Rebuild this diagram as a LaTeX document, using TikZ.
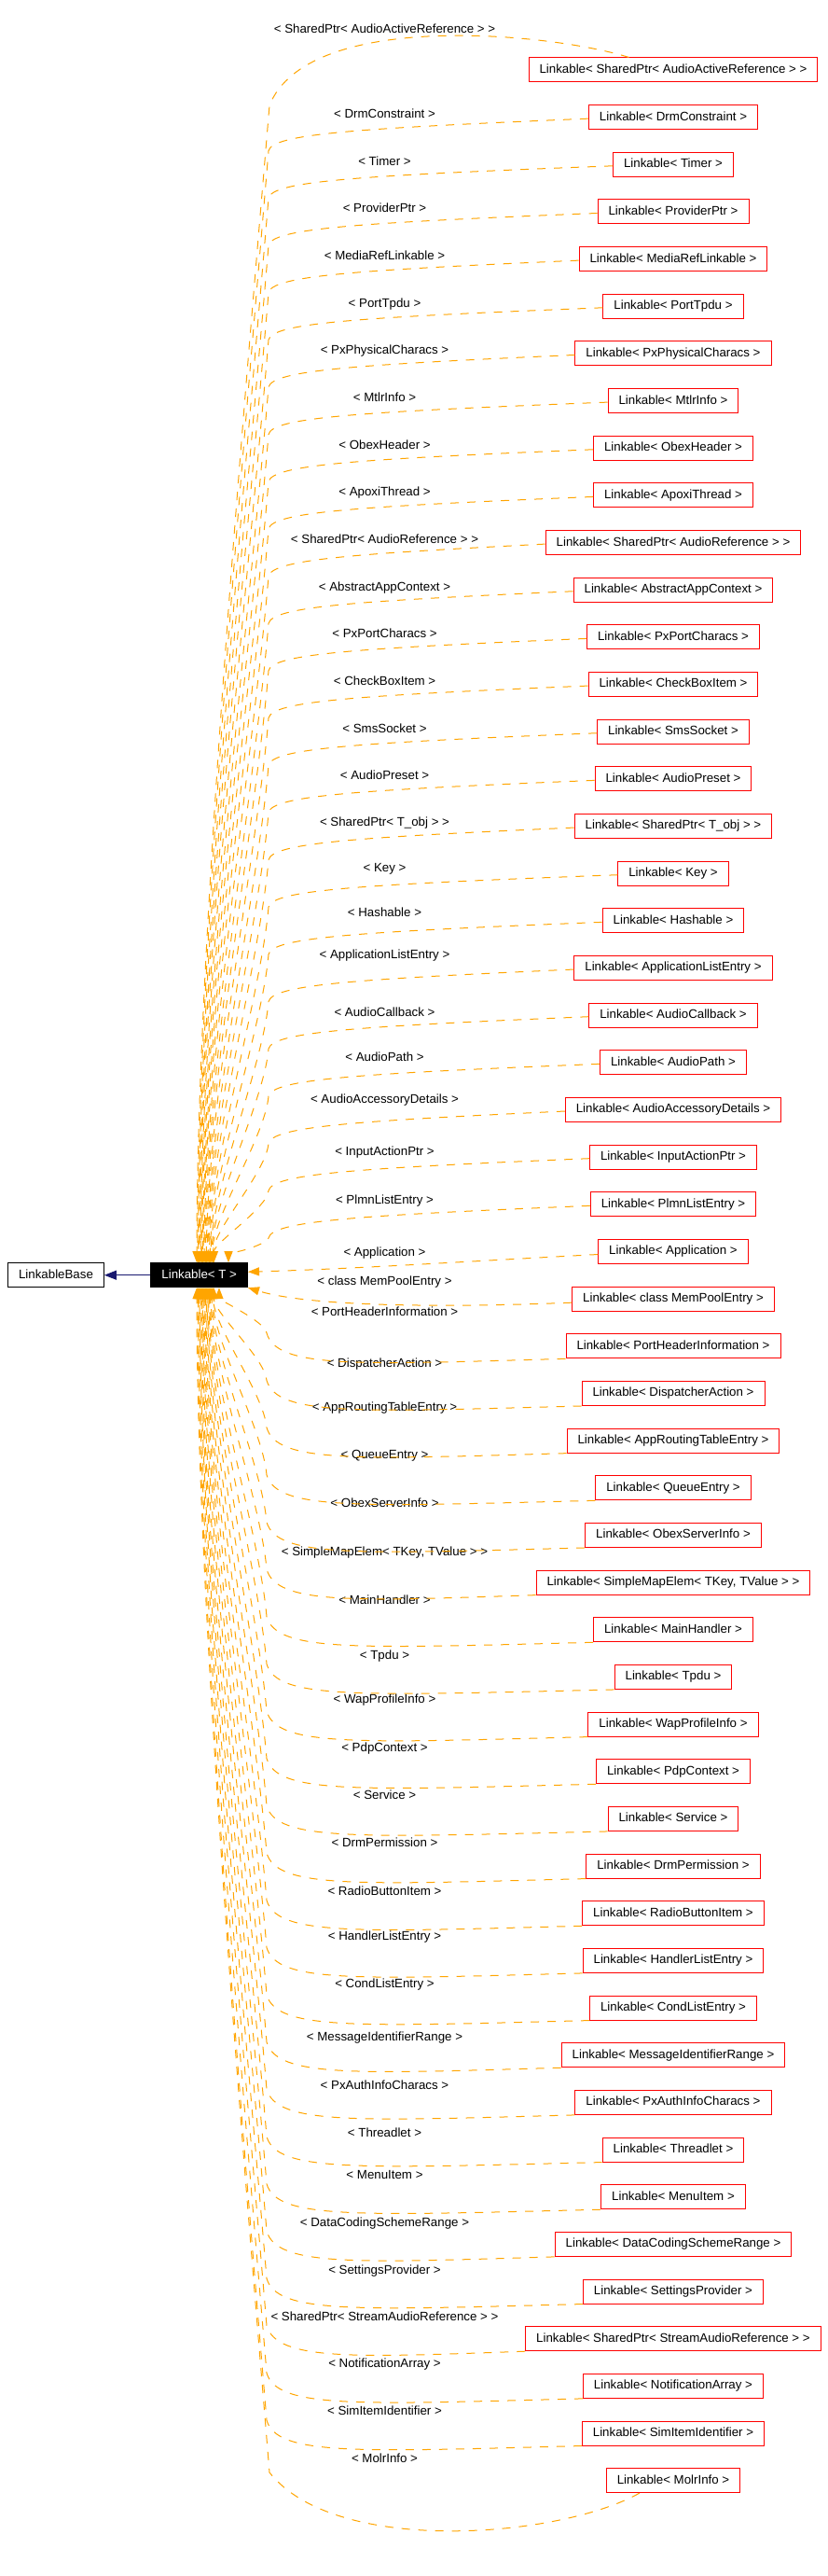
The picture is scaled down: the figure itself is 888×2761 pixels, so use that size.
\documentclass[tikz,border=0pt]{standalone}
\usepackage{fontspec}
\setmainfont{Liberation Sans}
\usetikzlibrary{arrows.meta,calc}
\definecolor{edgeorange}{HTML}{FFA500}
\definecolor{basenavy}{HTML}{191970}
\newcommand{\tkvtext}{SimpleMapElem< TKey, TValue >}
\begin{document}
\begin{tikzpicture}[x=1pt,y=-1pt,
  txt/.style={font=\fontsize{13.3}{16}\selectfont, text height=9.6pt, text depth=2.8pt},
  childbox/.style={txt, draw=red, fill=white, line width=1pt, inner xsep=11.5pt, inner ysep=0pt, minimum height=26pt},
  tbox/.style={txt, draw=black, fill=black, text=white, line width=1pt, inner xsep=11.5pt, inner ysep=0pt, minimum height=26pt},
  basebox/.style={txt, draw=black, fill=white, line width=1pt, inner xsep=11.5pt, inner ysep=0pt, minimum height=26pt},
  lab/.style={txt, inner sep=0pt},
  inhedge/.style={draw=edgeorange, line width=1pt, dash pattern=on 9pt off 9pt, -{Triangle[length=12pt,width=9pt]}},
  baseedge/.style={draw=basenavy, line width=1pt, -{Triangle[length=13pt,width=10pt]}}
]
\fill[white] (0,0) rectangle (888,2761);
\useasboundingbox (0,0) rectangle (888,2761);

\node[basebox] (B) at (60,1366.7) {LinkableBase};
\node[tbox] (T) at (213.7,1366.7) {Linkable< T >};
\draw[baseedge] (T.west) -- (B.east);

\foreach \t/\ly [count=\i from 0] in {
  SharedPtr< AudioActiveReference >/31.7,
  DrmConstraint/123.3,
  Timer/174.2,
  ProviderPtr/224.2,
  MediaRefLinkable/275,
  PortTpdu/326,
  PxPhysicalCharacs/376,
  MtlrInfo/426.9,
  ObexHeader/477.8,
  ApoxiThread/528.2,
  SharedPtr< AudioReference >/579,
  AbstractAppContext/630,
  PxPortCharacs/680,
  CheckBoxItem/730.9,
  SmsSocket/782.2,
  AudioPreset/832,
  SharedPtr< T\_obj >/881.7,
  Key/931,
  Hashable/979.3,
  ApplicationListEntry/1024.5,
  AudioCallback/1085.9,
  AudioPath/1134.4,
  AudioAccessoryDetails/1179.3,
  InputActionPtr/1235.3,
  PlmnListEntry/1287.1,
  Application/1343.2,
  class MemPoolEntry/1374.3,
  PortHeaderInformation/1407.5,
  DispatcherAction/1462,
  AppRoutingTableEntry/1508.7,
  QueueEntry/1559.8,
  ObexServerInfo/1612.4,
  \tkvtext/1664.3,
  MainHandler/1716.2,
  Tpdu/1774.7,
  WapProfileInfo/1822.4,
  PdpContext/1874.3,
  Service/1924.9,
  DrmPermission/1976,
  RadioButtonItem/2027.8,
  HandlerListEntry/2075.9,
  CondListEntry/2127.2,
  MessageIdentifierRange/2183.9,
  PxAuthInfoCharacs/2235.7,
  Threadlet/2287,
  MenuItem/2332,
  DataCodingSchemeRange/2383,
  SettingsProvider/2434,
  SharedPtr< StreamAudioReference >/2484,
  NotificationArray/2534,
  SimItemIdentifier/2584.7,
  MolrInfo/2635.7} {
  \pgfmathsetmacro\yy{75+50.66*\i}
  \node[childbox] (c\i) at (722,\yy) {Linkable< \t\ >};
  \node[lab] (l\i) at (412.5,\ly) {< \t\ >};
}

% top edges
\draw[inhedge] ($(c0.north west)+(108,0)$) .. controls (590,35) and (330,10) .. (289,113)
   .. controls (264,411) and (211,1007) .. ($(T.north)+(-2.7,0)$);
\foreach \i in {1,...,24} {
  \pgfmathsetmacro\yy{75+50.66*\i}
  \pgfmathsetmacro\xe{\i==24 ? 245 : 211+0.8*\i}
  \pgfmathsetmacro\py{\yy+36}
  \pgfmathsetmacro\L{1354-\py}
  \draw[inhedge] ($(c\i.west)+(0,1.5)$) .. controls (380,\yy+12) and (292,\yy+18) .. (288,\py)
     .. controls (288-0.02*\L,\py+0.24*\L) and (\xe,1354-0.28*\L) .. ($(T.north)+(\xe-213.7,0)$);
}
% middle edges
\draw[inhedge] ($(c25.west)+(0,3)$) .. controls (500,1352) and (380,1360) .. ($(T.east)+(0,-3.5)$);
\draw[inhedge] ($(c26.west)+(0,4)$) .. controls (470,1402) and (330,1400) .. (T.south east);
% bottom edges
\foreach \j in {27,...,50} {
  \pgfmathsetmacro\yy{75+50.66*\j}
  \pgfmathsetmacro\xe{\j==27 ? 235 : 211+0.8*(51-\j)}
  \pgfmathsetmacro\py{\yy-14}
  \pgfmathsetmacro\L{\py-1379.3}
  \draw[inhedge] (c\j.south west) .. controls (380,\yy+20) and (297,\yy+24) .. (286,\py)
     .. controls (286-0.02*\L,\py-0.24*\L) and (\xe,1379.3+0.28*\L) .. ($(T.south)+(\xe-213.7,0)$);
}
\draw[inhedge] ($(c51.south west)+(36,0)$) .. controls (600,2720) and (360,2740) .. (289,2650)
   .. controls (264,2345) and (211,1735) .. ($(T.south)+(-2.7,0)$);
\end{tikzpicture}
\end{document}
